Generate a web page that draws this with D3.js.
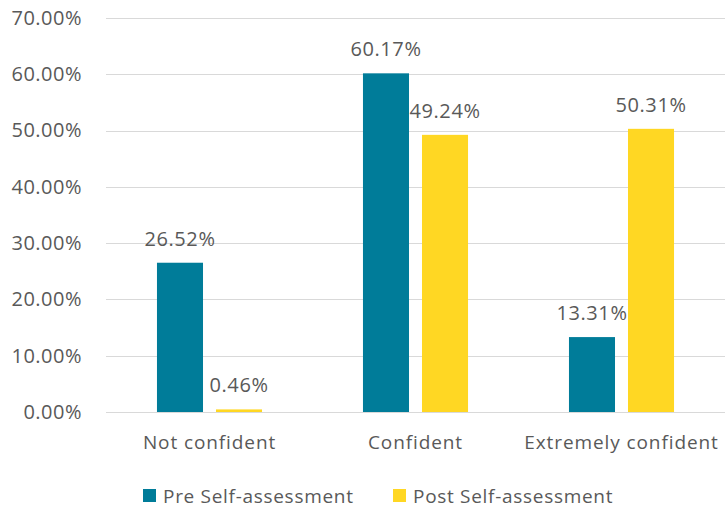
<!DOCTYPE html>
<html>
<head>
<meta charset="utf-8">
<script src="https://cdn.jsdelivr.net/npm/d3@7"></script>
<style>
  body { margin: 0; background: #fff; }
  svg text { font-family: "Open Sans", "Liberation Sans", sans-serif; fill: #595959; }
</style>
</head>
<body>
<svg id="chart"></svg>
<script>
// survey confidence, pre vs post self-assessment
const categories = ["Not confident", "Confident", "Extremely confident"];
const seriesNames = ["Pre Self-assessment", "Post Self-assessment"];
const preValues = [26.52, 60.17, 13.31];
const postValues = [0.46, 49.24, 50.31];
const yTicks = [0, 10, 20, 30, 40, 50, 60, 70];

const COLORS = ["#007c99", "#ffd723"];
const W = 725, H = 507;

const svg = d3.select("#chart").attr("width", W).attr("height", H);

const x = d3.scaleBand().domain(categories).range([106.5, 724.5]).padding(0);
const xInner = d3.scaleBand().domain(seriesNames).range([0, x.bandwidth()])
  .paddingInner(0.22).paddingOuter(0.855);
const y = d3.scaleLinear().domain([0, 70]).range([412, 18]);

//Gridlines
svg.append("g")
  .selectAll("line")
  .data(yTicks)
  .join("line")
  .attr("x1", 106).attr("x2", 725)
  .attr("y1", d => Math.round(y(d)) + 0.5)
  .attr("y2", d => Math.round(y(d)) + 0.5)
  .attr("stroke", "#d9d9d9")
  .attr("stroke-width", 1);

//Y axis labels
const yAxis = d3.axisLeft(y).tickValues(yTicks).tickFormat(d => d.toFixed(2) + "%").tickSize(0).tickPadding(0);
svg.append("g")
  .attr("transform", "translate(82,0)")
  .call(yAxis)
  .call(g => g.select(".domain").remove())
  .selectAll("text")
  .attr("font-size", "20px")
  .attr("letter-spacing", "0.5px")
  .style("font-family", null)
  .attr("fill", "#595959");

const rows = categories.map((c, i) => ({ cat: c, vals: [preValues[i], postValues[i]] }));

const groups = svg.append("g")
  .selectAll("g")
  .data(rows)
  .join("g")
  .attr("transform", d => `translate(${x(d.cat)},0)`);

groups.selectAll("rect")
  .data(d => d.vals.map((v, j) => ({ name: seriesNames[j], v, j })))
  .join("rect")
  .attr("x", d => xInner(d.name))
  .attr("width", xInner.bandwidth())
  .attr("y", d => y(d.v))
  .attr("height", d => y(0) - y(d.v))
  .attr("fill", d => COLORS[d.j]);

//Data labels
groups.selectAll("text.lbl")
  .data(d => d.vals.map((v, j) => ({ name: seriesNames[j], v, j })))
  .join("text")
  .attr("class", "lbl")
  .attr("x", d => xInner(d.name) + xInner.bandwidth() / 2)
  .attr("y", d => y(d.v) - 17)
  .attr("text-anchor", "middle")
  .attr("font-size", "20px")
  .attr("letter-spacing", "0.6px")
  .text(d => d.v.toFixed(2) + "%");

//X axis labels
const xAxis = d3.axisBottom(x).tickSize(0).tickPadding(0);
svg.append("g")
  .attr("transform", "translate(0,435)")
  .call(xAxis)
  .call(g => g.select(".domain").remove())
  .selectAll("text")
  .attr("font-size", "19px")
  .attr("letter-spacing", "0.9px")
  .style("font-family", null)
  .attr("fill", "#595959");

//Legend
const legendX = [143, 393];
const legend = svg.append("g")
  .selectAll("g")
  .data(seriesNames)
  .join("g")
  .attr("transform", (d, i) => `translate(${legendX[i]},489)`);
legend.append("rect").attr("width", 13).attr("height", 13).attr("fill", (d, i) => COLORS[i]);
legend.append("text")
  .attr("x", 20).attr("y", 13.5)
  .attr("font-size", "19px")
  .attr("letter-spacing", "0.7px")
  .text(d => d);
</script>
</body>
</html>
